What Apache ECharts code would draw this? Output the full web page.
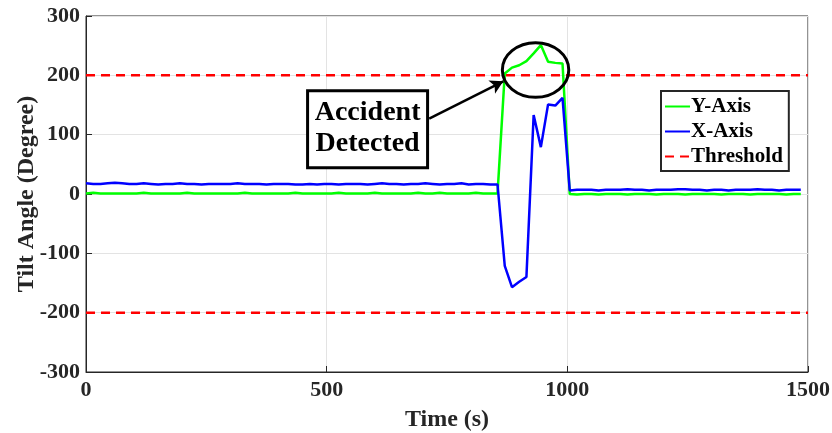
<!DOCTYPE html>
<html>
<head>
<meta charset="utf-8">
<script src="https://cdn.jsdelivr.net/npm/echarts@6/dist/echarts.min.js"></script>
<style>
    html, body { margin: 0; padding: 0; background: #fff; }
    #main { width: 832px; height: 433px; }
</style>
</head>
<body>
<div id="main"></div>
<script>
// sample times (s)
var timeSec = [
    0, 15, 30, 45, 60, 75, 90, 105, 120, 135, 150, 165, 180, 195, 210, 225, 240, 255, 270, 285,
    300, 315, 330, 345, 360, 375, 390, 405, 420, 435, 450, 465, 480, 495, 510, 525, 540, 555, 570, 585,
    600, 615, 630, 645, 660, 675, 690, 705, 720, 735, 750, 765, 780, 795, 810, 825, 840, 855, 870, 885,
    900, 915, 930, 945, 960, 975, 990, 1005, 1020, 1035, 1050, 1065, 1080, 1095, 1110, 1125, 1140, 1155, 1170, 1185,
    1200, 1215, 1230, 1245, 1260, 1275, 1290, 1305, 1320, 1335, 1350, 1365, 1380, 1395, 1410, 1425, 1440, 1455, 1470, 1485
];

var yAxisTilt = [
    1, 2, 1, 1, 1, 1, 1, 1, 2, 1, 1, 1, 1, 1, 2, 1, 1, 1, 1, 1,
    1, 1, 2, 1, 1, 1, 1, 1, 1, 2, 1, 1, 1, 1, 1, 2, 1, 1, 1, 1,
    2, 1, 1, 1, 1, 1, 2, 1, 1, 2, 1, 1, 1, 1, 2, 1, 1, 1, 203, 213,
    217, 224, 237, 251, 223, 221, 220, 0, -1, 0, 0, -1, 0, 0, 0, -1, 0, 0, 0, -1,
    0, 0, 0, -1, 0, 0, 0, 0, -1, 0, 0, 0, -1, 0, 0, 0, 0, -1, 0, 0
];

var xAxisTilt = [
    18, 17, 17, 18, 19, 18, 17, 17, 18, 17, 16, 17, 17, 18, 17, 17, 16, 17, 17, 17,
    17, 18, 17, 17, 17, 16, 17, 17, 17, 16, 16, 17, 16, 17, 17, 16, 17, 17, 17, 16,
    17, 18, 17, 17, 16, 17, 17, 18, 17, 16, 17, 17, 18, 16, 17, 17, 16, 16, -121, -157,
    -148, -140, 133, 79, 151, 149, 162, 6, 7, 7, 7, 6, 7, 7, 7, 8, 7, 7, 6, 7,
    7, 7, 8, 8, 7, 7, 6, 7, 7, 6, 7, 7, 7, 8, 7, 7, 6, 7, 7, 7
];

var thresholdValue = 200;
var xTicks = [0, 500, 1000, 1500];
var yTicks = [-300, -200, -100, 0, 100, 200, 300];

// annotation (data coords)
var eventCenter = [934, 209];
var eventRadius = [69, 46];
var noteCenter = [585, 110];
var arrowFrom = [713, 127];
var arrowTo = [867, 190];

var FONT = '"Liberation Serif", "Times New Roman", serif';
var AXIS_COLOR = '#262626';

function pairs(xs, ys) {
    var out = [];
    for (var i = 0; i < xs.length; i++) {
        out.push([xs[i], ys[i]]);
    }
    return out;
}

var chart = echarts.init(document.getElementById('main'), null, { renderer: 'canvas' });

var axisLabelStyle = {
    fontFamily: FONT,
    fontWeight: 'bold',
    fontSize: 22,
    color: AXIS_COLOR,
    formatter: function (v) { return String(v); }
};
var axisNameStyle = { fontFamily: FONT, fontWeight: 'bold', fontSize: 24, color: AXIS_COLOR };

var option = {
    animation: false,
    grid: {
        left: 86,
        right: 24,
        top: 16,
        bottom: 61,
        outerBoundsMode: 'none',
        containLabel: false,
        show: true,
        borderColor: AXIS_COLOR,
        borderWidth: 1
    },
    legend: {
        orient: 'vertical',
        left: 661,
        top: 91,
        padding: [5, 6, 4, 3],
        itemWidth: 25,
        itemHeight: 14,
        itemGap: 4,
        borderColor: AXIS_COLOR,
        borderWidth: 2,
        backgroundColor: '#fff',
        itemStyle: { opacity: 0 },
        data: ['Y-Axis', 'X-Axis', 'Threshold'],
        textStyle: {
            fontFamily: FONT,
            fontWeight: 'bold',
            fontSize: 21,
            color: '#000',
            padding: [0, 0, 0, -4]
        }
    },
    xAxis: {
        type: 'value',
        min: xTicks[0],
        max: xTicks[xTicks.length - 1],
        interval: 500,
        name: 'Time (s)',
        nameLocation: 'middle',
        nameGap: 36,
        nameMoveOverlap: false,
        nameTextStyle: axisNameStyle,
        axisLine: { show: true, onZero: false, lineStyle: { color: AXIS_COLOR, width: 1 } },
        axisTick: { show: true, inside: true, length: 6, lineStyle: { color: AXIS_COLOR } },
        axisLabel: Object.assign({ margin: 7 }, axisLabelStyle),
        splitLine: { show: true, lineStyle: { color: '#e3e3e3', width: 1 } }
    },
    yAxis: {
        type: 'value',
        min: yTicks[0],
        max: yTicks[yTicks.length - 1],
        interval: 100,
        name: 'Tilt Angle (Degree)',
        nameLocation: 'middle',
        nameGap: 47,
        nameMoveOverlap: false,
        nameTextStyle: axisNameStyle,
        axisLine: { show: true, onZero: false, lineStyle: { color: AXIS_COLOR, width: 1 } },
        axisTick: { show: true, inside: true, length: 6, lineStyle: { color: AXIS_COLOR } },
        axisLabel: Object.assign({ margin: 6 }, axisLabelStyle),
        splitLine: { show: true, lineStyle: { color: '#e3e3e3', width: 1 } }
    },
    series: [
        {
            name: 'Y-Axis',
            type: 'line',
            symbol: 'none',
            color: '#00ff00',
            lineStyle: { color: '#00ff00', width: 2.5 },
            data: pairs(timeSec, yAxisTilt),
            z: 3,
            markLine: {
                silent: true,
                symbol: ['none', 'arrow'],
                symbolSize: [11, 13],
                label: { show: false },
                lineStyle: { color: '#000', width: 2.5, type: 'solid' },
                data: [[{ coord: arrowFrom }, { coord: arrowTo }]]
            }
        },
        {
            name: 'X-Axis',
            type: 'line',
            symbol: 'none',
            color: '#0000ff',
            lineStyle: { color: '#0000ff', width: 2.5 },
            data: pairs(timeSec, xAxisTilt),
            z: 4
        },
        {
            name: 'Threshold',
            type: 'line',
            symbol: 'none',
            color: '#ff0000',
            lineStyle: { color: '#ff0000', width: 2.5, type: [9, 6] },
            data: [[xTicks[0], thresholdValue], [xTicks[xTicks.length - 1], thresholdValue]],
            z: 2
        },
        {
            name: 'Threshold',
            type: 'line',
            symbol: 'none',
            color: '#ff0000',
            lineStyle: { color: '#ff0000', width: 2.5, type: [9, 6] },
            data: [[xTicks[0], -thresholdValue], [xTicks[xTicks.length - 1], -thresholdValue]],
            z: 2
        }
    ]
};

chart.setOption(option);

// annotations placed from data coordinates
var c = chart.convertToPixel({ gridIndex: 0 }, eventCenter);
var cEdge = chart.convertToPixel({ gridIndex: 0 }, [eventCenter[0] + eventRadius[0], eventCenter[1] + eventRadius[1]]);
var n = chart.convertToPixel({ gridIndex: 0 }, noteCenter);

chart.setOption({
    graphic: [
        {
            type: 'ellipse',
            shape: { cx: c[0], cy: c[1], rx: cEdge[0] - c[0], ry: c[1] - cEdge[1] },
            style: { fill: 'none', stroke: '#000', lineWidth: 3 },
            z: 10
        },
        {
            type: 'group',
            x: n[0],
            y: n[1],
            z: 10,
            children: [
                {
                    type: 'rect',
                    shape: { x: -60, y: -38, width: 120, height: 77 },
                    style: { fill: '#fff', stroke: '#000', lineWidth: 3 }
                },
                {
                    type: 'text',
                    x: 0,
                    y: 0,
                    style: {
                        text: 'Accident\nDetected',
                        fontFamily: FONT,
                        fontWeight: 'bold',
                        fontSize: 28,
                        lineHeight: 31,
                        fill: '#000',
                        align: 'center',
                        verticalAlign: 'middle'
                    }
                }
            ]
        }
    ]
});
</script>
</body>
</html>
